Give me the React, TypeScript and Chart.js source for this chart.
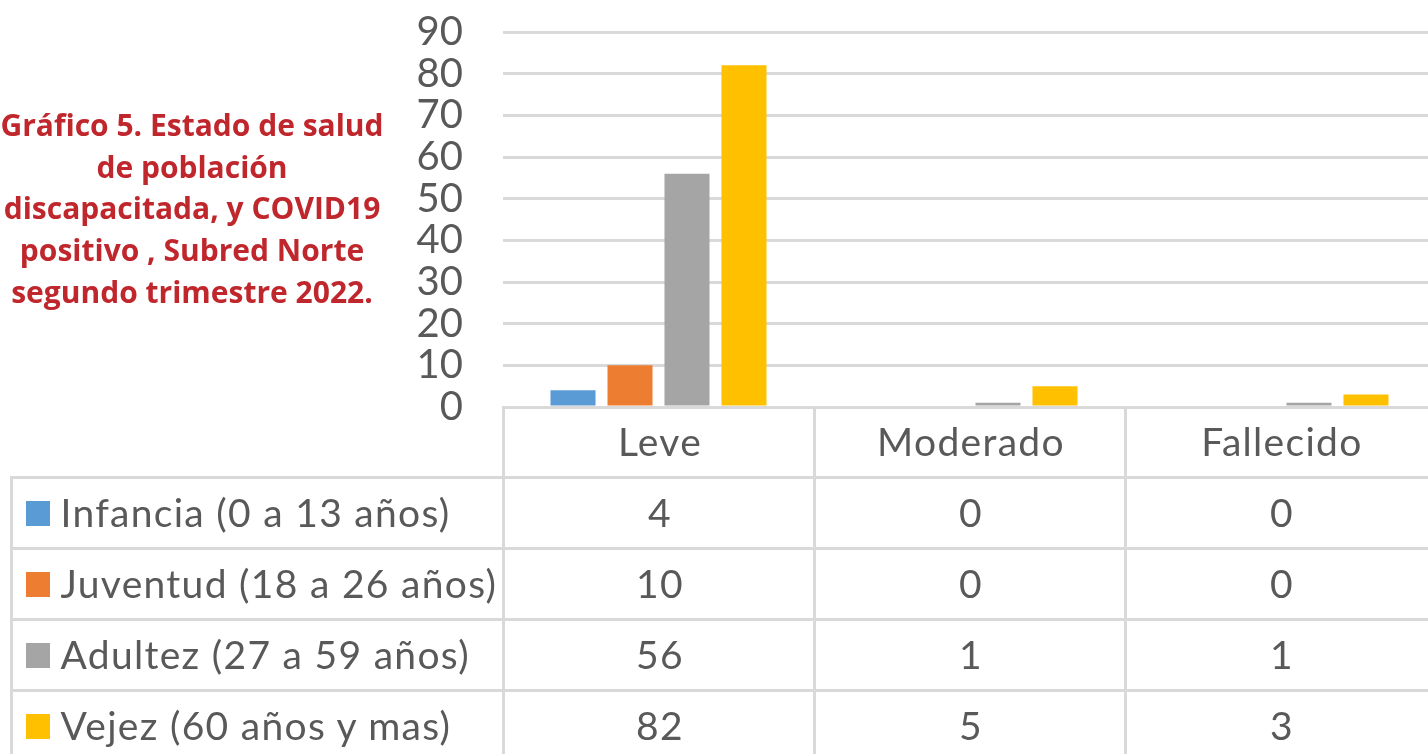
import React, { useEffect, useRef } from "react";
import { Chart, registerables } from "chart.js";

Chart.register(...registerables);

const categories = ["Leve", "Moderado", "Fallecido"];
const seriesNames = [
  "Infancia (0 a 13 años)",
  "Juventud (18 a 26 años)",
  "Adultez (27 a 59 años)",
  "Vejez (60 años y mas)",
];
const infancia = [4, 0, 0];
const juventud = [10, 0, 0];
const adultez = [56, 1, 1];
const vejez = [82, 5, 3];
const seriesValues = [infancia, juventud, adultez, vejez];
const seriesColors = ["#5B9BD5", "#ED7D31", "#A5A5A5", "#FFC000"];
const yTicks = { min: 0, max: 90, step: 10 };
const titleLines = [
  "Gráfico 5. Estado de salud",
  "de población",
  "discapacitada, y COVID19",
  "positivo , Subred Norte",
  "segundo trimestre 2022.",
];

const FONT = "Lato, 'Open Sans', sans-serif";
const GRAY_TEXT = "#595959";
const LINE = "#D9D9D9";
const AXIS_W = 503;
const CHART_RIGHT = 1436;
const CAT_W = (CHART_RIGHT - AXIS_W) / 3;
const colX = [11, AXIS_W, AXIS_W + CAT_W, AXIS_W + 2 * CAT_W, CHART_RIGHT];
const rowY = [407, 477, 548, 619, 690, 761];

export default function App() {
  const ref = useRef<HTMLCanvasElement | null>(null);

  useEffect(() => {
    if (!ref.current) return;
    const chart = new Chart(ref.current, {
      type: "bar",
      data: {
        labels: categories,
        datasets: seriesNames.map((name, i) => ({
          label: name,
          data: seriesValues[i],
          backgroundColor: seriesColors[i],
          borderWidth: 0,
          categoryPercentage: 0.733,
          barPercentage: 0.79,
        })),
      },
      options: {
        responsive: false,
        animation: false,
        devicePixelRatio: 1,
        layout: { padding: { top: 32, bottom: 63, left: 0, right: 4 } },
        plugins: {
          legend: { display: false },
          tooltip: { enabled: false },
          title: { display: false },
        },
        scales: {
          x: { display: false },
          y: {
            min: yTicks.min,
            max: yTicks.max,
            border: { display: false },
            grid: {
              color: LINE,
              lineWidth: 3,
              drawTicks: true,
              tickLength: 40,
              tickColor: "rgba(0,0,0,0)",
            },
            ticks: {
              stepSize: yTicks.step,
              autoSkip: false,
              color: GRAY_TEXT,
              font: { family: FONT, size: 40 },
              padding: 0,
            },
            afterFit: (scale: any) => {
              scale.width = AXIS_W;
            },
          },
        },
      },
    });
    return () => chart.destroy();
  }, []);

  const cellBase = (left: number, top: number, width: number, height: number) => ({
    position: "absolute" as const,
    left: left - 1.5,
    top: top - 1.5,
    width,
    height,
    borderLeft: `3px solid ${LINE}`,
    borderTop: `3px solid ${LINE}`,
    display: "flex",
    alignItems: "center",
    boxSizing: "border-box" as const,
    paddingBottom: 2,
  });

  const cells: React.ReactNode[] = [];
  categories.forEach((c, j) => {
    cells.push(
      <div
        key={"h" + j}
        style={{
          ...cellBase(colX[j + 1], rowY[0], colX[j + 2] - colX[j + 1], rowY[1] - rowY[0]),
          justifyContent: "center",
          paddingLeft: 3,
        }}
      >
        {c}
      </div>
    );
  });
  seriesNames.forEach((name, i) => {
    cells.push(
      <div
        key={"l" + i}
        style={cellBase(colX[0], rowY[i + 1], colX[1] - colX[0], rowY[i + 2] - rowY[i + 1])}
      >
        <span
          style={{
            display: "inline-block",
            width: 24,
            height: 25,
            background: seriesColors[i],
            marginLeft: 13,
            marginRight: 11,
            marginTop: 3,
          }}
        />
        <span>{name}</span>
      </div>
    );
    seriesValues[i].forEach((v, j) => {
      cells.push(
        <div
          key={"v" + i + "_" + j}
          style={{
            ...cellBase(colX[j + 1], rowY[i + 1], colX[j + 2] - colX[j + 1], rowY[i + 2] - rowY[i + 1]),
            justifyContent: "center",
            paddingLeft: 3,
          }}
        >
          {v}
        </div>
      );
    });
  });

  return (
    <div
      style={{
        position: "fixed",
        left: 0,
        top: 0,
        width: 1428,
        height: 754,
        overflow: "hidden",
        background: "#ffffff",
      }}
    >
      <canvas
        ref={ref}
        width={1440}
        height={470}
        style={{ position: "absolute", left: 0, top: 0, width: 1440, height: 470 }}
      />
      <div
        style={{
          position: "absolute",
          left: -20,
          top: 104,
          width: 424,
          textAlign: "center",
          color: "#C0272D",
          fontFamily: "'Open Sans', 'Noto Sans', sans-serif",
          fontWeight: 700,
          fontSize: 30,
          lineHeight: "41.7px",
          whiteSpace: "nowrap",
        }}
      >
        {titleLines.map((t, i) => (
          <div key={i}>{t}</div>
        ))}
      </div>
      <div
        style={{
          position: "absolute",
          left: 0,
          top: 0,
          width: 1440,
          height: 770,
          fontFamily: FONT,
          fontSize: 39,
          letterSpacing: "1.3px",
          color: GRAY_TEXT,
        }}
      >
        {cells}
      </div>
    </div>
  );
}
